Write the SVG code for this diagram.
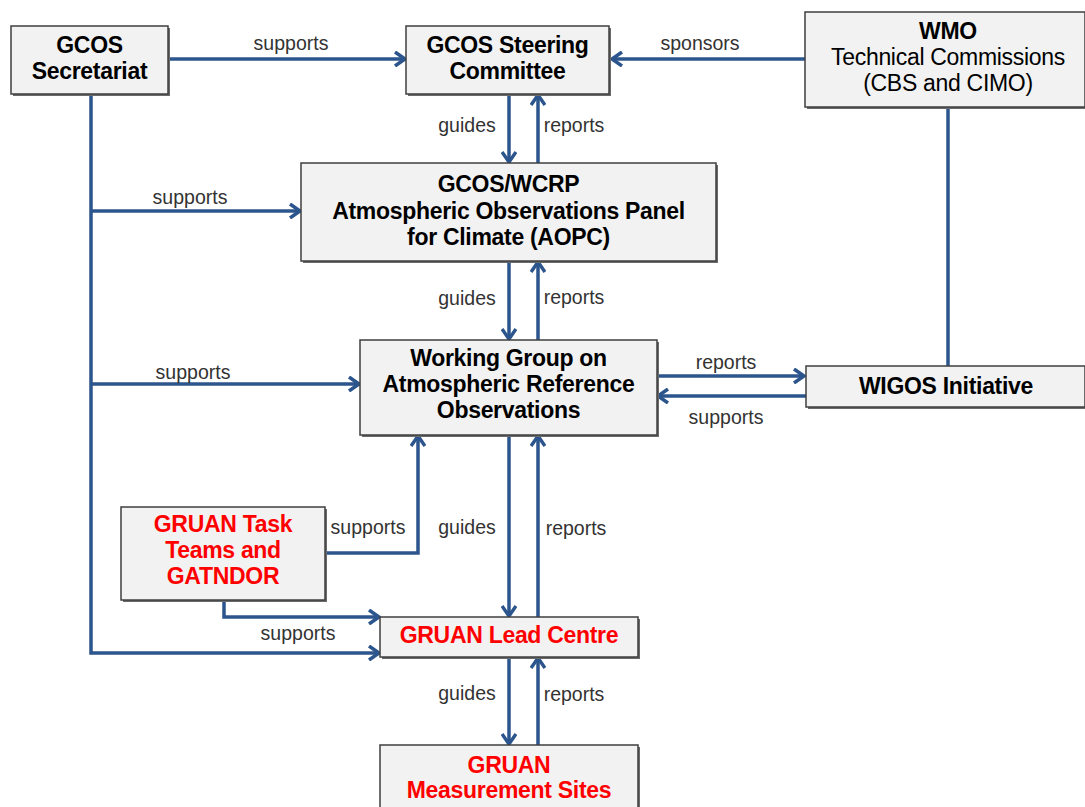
<svg xmlns="http://www.w3.org/2000/svg" width="1085" height="807" viewBox="0 0 1085 807">
<style>
.box{fill:#f2f2f2;stroke:#3f3f3f;stroke-width:1.5}
.sh{fill:#6a6a6a}
.t{font-family:"Liberation Sans",Arial,sans-serif;font-size:23px;font-weight:bold;fill:#000;text-anchor:middle;letter-spacing:-0.3px}
.n{font-family:"Liberation Sans",Arial,sans-serif;font-size:23px;fill:#000;text-anchor:middle;letter-spacing:-0.3px}
.r{fill:#ff0000}
.lbl{font-family:"Liberation Sans",Arial,sans-serif;font-size:19.5px;fill:#333;text-anchor:middle}
.c{fill:none;stroke:#2b558c;stroke-width:3.5}
</style>
<defs>
<marker id="ah" markerUnits="userSpaceOnUse" markerWidth="16" markerHeight="16" viewBox="0 0 16 16" refX="14" refY="8" orient="auto">
<path d="M4,1 L14,8 L4,15" fill="none" stroke="#2b558c" stroke-width="3.5"/>
</marker>
</defs>
<rect width="1085" height="807" fill="#fff"/>
<g id="connectors">
<line class="c" x1="168" y1="59" x2="405" y2="59" marker-end="url(#ah)"/>
<line class="c" x1="805" y1="59" x2="612" y2="59" marker-end="url(#ah)"/>
<line class="c" x1="948" y1="107" x2="948" y2="366"/>
<line class="c" x1="509" y1="94" x2="509" y2="162" marker-end="url(#ah)"/>
<line class="c" x1="538" y1="163" x2="538" y2="95" marker-end="url(#ah)"/>
<polyline class="c" points="91,94 91,653 379,653" marker-end="url(#ah)"/>
<line class="c" x1="91" y1="211" x2="300" y2="211" marker-end="url(#ah)"/>
<line class="c" x1="91" y1="384" x2="359" y2="384" marker-end="url(#ah)"/>
<line class="c" x1="509" y1="261" x2="509" y2="339" marker-end="url(#ah)"/>
<line class="c" x1="538" y1="340" x2="538" y2="262" marker-end="url(#ah)"/>
<line class="c" x1="657" y1="376" x2="804" y2="376" marker-end="url(#ah)"/>
<line class="c" x1="806" y1="396" x2="658" y2="396" marker-end="url(#ah)"/>
<polyline class="c" points="325,553 418,553 418,436" marker-end="url(#ah)"/>
<polyline class="c" points="224,600 224,617 379,617" marker-end="url(#ah)"/>
<line class="c" x1="509" y1="435" x2="509" y2="616" marker-end="url(#ah)"/>
<line class="c" x1="538" y1="617" x2="538" y2="436" marker-end="url(#ah)"/>
<line class="c" x1="509" y1="657" x2="509" y2="744" marker-end="url(#ah)"/>
<line class="c" x1="538" y1="745" x2="538" y2="658" marker-end="url(#ah)"/>
<text class="lbl" x="291" y="50">supports</text>
<text class="lbl" x="700" y="50">sponsors</text>
<text class="lbl" x="467" y="132">guides</text>
<text class="lbl" x="574" y="132">reports</text>
<text class="lbl" x="190" y="204">supports</text>
<text class="lbl" x="467" y="305">guides</text>
<text class="lbl" x="574" y="304">reports</text>
<text class="lbl" x="193" y="379">supports</text>
<text class="lbl" x="726" y="369">reports</text>
<text class="lbl" x="726" y="424">supports</text>
<text class="lbl" x="368" y="534">supports</text>
<text class="lbl" x="467" y="534">guides</text>
<text class="lbl" x="576" y="535">reports</text>
<text class="lbl" x="298" y="640">supports</text>
<text class="lbl" x="467" y="700">guides</text>
<text class="lbl" x="574" y="701">reports</text>
</g>
<g id="gcos-secretariat">
<rect class="sh" x="13" y="28" width="157" height="68"/>
<rect class="box" x="11" y="26" width="157" height="68"/>
<text class="t" x="89.5" y="53">GCOS</text>
<text class="t" x="89.5" y="79">Secretariat</text>
</g>
<g id="gcos-steering">
<rect class="sh" x="408" y="28" width="203" height="68"/>
<rect class="box" x="406" y="26" width="203" height="68"/>
<text class="t" x="507.5" y="53">GCOS Steering</text>
<text class="t" x="507.5" y="79">Committee</text>
</g>
<g id="wmo">
<rect class="sh" x="807" y="14" width="280" height="95"/>
<rect class="box" x="805" y="12" width="280" height="95"/>
<text class="t" x="948" y="39">WMO</text>
<text class="n" x="948" y="65">Technical Commissions</text>
<text class="n" x="948" y="91">(CBS and CIMO)</text>
</g>
<g id="aopc">
<rect class="sh" x="303" y="165" width="415" height="98"/>
<rect class="box" x="301" y="163" width="415" height="98"/>
<text class="t" x="508.5" y="192">GCOS/WCRP</text>
<text class="t" x="508.5" y="219">Atmospheric Observations Panel</text>
<text class="t" x="508.5" y="245">for Climate (AOPC)</text>
</g>
<g id="working-group">
<rect class="sh" x="362" y="342" width="297" height="95"/>
<rect class="box" x="360" y="340" width="297" height="95"/>
<text class="t" x="508.5" y="366">Working Group on</text>
<text class="t" x="508.5" y="392">Atmospheric Reference</text>
<text class="t" x="508.5" y="418">Observations</text>
</g>
<g id="wigos">
<rect class="sh" x="808" y="368" width="279" height="41"/>
<rect class="box" x="806" y="366" width="279" height="41"/>
<text class="t" x="946" y="394">WIGOS Initiative</text>
</g>
<g id="task-teams">
<rect class="sh" x="123" y="509" width="204" height="93"/>
<rect class="box" x="121" y="507" width="204" height="93"/>
<text class="t r" x="223" y="532">GRUAN Task</text>
<text class="t r" x="223" y="558">Teams and</text>
<text class="t r" x="223" y="584">GATNDOR</text>
</g>
<g id="lead-centre">
<rect class="sh" x="382" y="619" width="258" height="40"/>
<rect class="box" x="380" y="617" width="258" height="40"/>
<text class="t r" x="509" y="643">GRUAN Lead Centre</text>
</g>
<g id="measurement-sites">
<rect class="sh" x="382" y="747" width="258" height="62"/>
<rect class="box" x="380" y="745" width="258" height="64"/>
<text class="t r" x="509" y="773">GRUAN</text>
<text class="t r" x="509" y="798">Measurement Sites</text>
</g>
</svg>
